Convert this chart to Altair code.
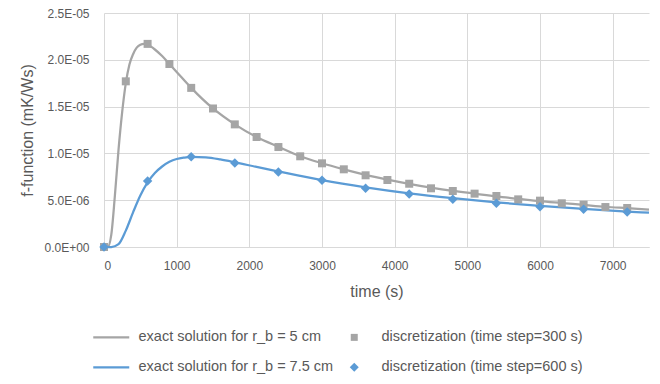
import altair as alt
import pandas as pd

S1 = "exact solution for r_b = 5 cm"
S2 = "discretization (time step=300 s)"
S3 = "exact solution for r_b = 7.5 cm"
S4 = "discretization (time step=600 s)"

# exact solution r_b = 5 cm (gray line)
t_exact5 = [0, 50, 100, 150, 200, 250, 300, 350, 400, 450, 500, 550, 600, 700, 800, 900,
            1000, 1200, 1500, 1800, 2100, 2400, 2700, 3000, 3300, 3600, 3900, 4200, 4500,
            4800, 5100, 5400, 5700, 6000, 6300, 6600, 6900, 7200, 7500]
f_exact5 = [0.0, 0.0, 0.13e-5, 0.55e-5, 1.04e-5, 1.44e-5, 1.75e-5, 1.95e-5, 2.06e-5, 2.13e-5,
            2.16e-5, 2.17e-5, 2.16e-5, 2.11e-5, 2.04e-5, 1.955e-5, 1.87e-5, 1.70e-5, 1.48e-5,
            1.31e-5, 1.175e-5, 1.07e-5, 0.97e-5, 0.895e-5, 0.83e-5, 0.77e-5, 0.72e-5, 0.675e-5,
            0.635e-5, 0.60e-5, 0.57e-5, 0.54e-5, 0.515e-5, 0.49e-5, 0.47e-5, 0.45e-5, 0.43e-5,
            0.415e-5, 0.40e-5]

# exact solution r_b = 7.5 cm (blue line)
t_exact75 = [0, 100, 200, 300, 400, 500, 600, 700, 800, 900, 1000, 1100, 1200, 1400, 1600,
             1800, 2100, 2400, 2700, 3000, 3600, 4200, 4800, 5400, 6000, 6600, 7200, 7500]
f_exact75 = [0.0, 0.0, 0.03e-5, 0.175e-5, 0.37e-5, 0.55e-5, 0.69e-5, 0.79e-5, 0.86e-5,
             0.91e-5, 0.94e-5, 0.955e-5, 0.963e-5, 0.957e-5, 0.935e-5, 0.905e-5, 0.855e-5,
             0.807e-5, 0.76e-5, 0.715e-5, 0.638e-5, 0.574e-5, 0.522e-5, 0.477e-5, 0.439e-5,
             0.407e-5, 0.379e-5, 0.366e-5]

# discretization, time step 300 s (gray squares)
t_disc300 = [0, 300, 600, 900, 1200, 1500, 1800, 2100, 2400, 2700, 3000, 3300, 3600, 3900,
             4200, 4500, 4800, 5100, 5400, 5700, 6000, 6300, 6600, 6900, 7200]
f_disc300 = [0.0, 1.77e-5, 2.17e-5, 1.955e-5, 1.70e-5, 1.48e-5, 1.31e-5, 1.175e-5, 1.068e-5,
             0.969e-5, 0.894e-5, 0.83e-5, 0.766e-5, 0.716e-5, 0.676e-5, 0.627e-5, 0.598e-5,
             0.57e-5, 0.545e-5, 0.509e-5, 0.495e-5, 0.467e-5, 0.452e-5, 0.427e-5, 0.417e-5]

# discretization, time step 600 s (blue diamonds)
t_disc600 = [0, 600, 1200, 1800, 2400, 3000, 3600, 4200, 4800, 5400, 6000, 6600, 7200]
f_disc600 = [0.0, 0.705e-5, 0.965e-5, 0.897e-5, 0.801e-5, 0.712e-5, 0.627e-5, 0.566e-5,
             0.509e-5, 0.467e-5, 0.431e-5, 0.403e-5, 0.374e-5]

# legend is filled column by column
series_order = [S1, S3, S2, S4]
series_colors = ["#a5a5a5", "#5b9bd5", "#a5a5a5", "#5b9bd5"]

lines = pd.concat([
    pd.DataFrame({"t": t_exact5, "f": f_exact5, "series": S1}),
    pd.DataFrame({"t": t_exact75, "f": f_exact75, "series": S3}),
])
pts300 = pd.DataFrame({"t": t_disc300, "f": f_disc300, "series": S2})
pts600 = pd.DataFrame({"t": t_disc600, "f": f_disc600, "series": S4})

FONT = "Liberation Sans"
TXT = "#595959"
GRID = "#d9d9d9"

color_scale = alt.Scale(domain=series_order, range=series_colors)

is_s2 = f"datum.value == '{S2}'"
is_s4 = f"datum.value == '{S4}'"

legend = alt.Legend(
    title=None,
    orient="none",
    legendX=-8,
    legendY=317,
    columns=2,
    columnPadding=5,
    rowPadding=15,
    labelFont=FONT,
    labelFontSize=14.5,
    labelColor=TXT,
    labelOffset=20,
    symbolOffset=8,
    padding=0,
    labelLimit=400,
    symbolType=alt.ExprRef(expr=f"{is_s2} ? 'square' : ({is_s4} ? 'diamond' : 'stroke')"),
    symbolSize=alt.ExprRef(expr=f"{is_s2} ? 49 : ({is_s4} ? 81 : 1296)"),
    symbolStrokeWidth=alt.ExprRef(expr=f"({is_s2} || {is_s4}) ? 0 : 2.25"),
    symbolStrokeColor=alt.ExprRef(expr="scale('color', datum.value)"),
    symbolFillColor=alt.ExprRef(expr="scale('color', datum.value)"),
    symbolOpacity=1,
)

x_enc = alt.X(
    "t:Q",
    scale=alt.Scale(domain=[0, 7500], nice=False, zero=True),
    axis=alt.Axis(
        title="time (s)",
        values=[0, 1000, 2000, 3000, 4000, 5000, 6000, 7000],
        format="d",
        grid=True,
        gridColor=GRID,
        domainColor=GRID,
        ticks=False,
        tickSize=0,
        labelPadding=13,
        labelFont=FONT,
        labelFontSize=12,
        labelColor=TXT,
        titleFont=FONT,
        titleFontSize=16,
        titleFontWeight="normal",
        titleColor=TXT,
        titlePadding=12,
    ),
)
y_enc = alt.Y(
    "f:Q",
    scale=alt.Scale(domain=[0, 2.5e-5], nice=False),
    axis=alt.Axis(
        title="f-function (mK/Ws)",
        values=[0, 5e-6, 1e-5, 1.5e-5, 2e-5, 2.5e-5],
        labelExpr="replace(replace(upper(format(datum.value, '.1e')), 'E-', 'E-0'), 'E+', 'E+0')",
        grid=True,
        gridColor=GRID,
        domain=False,
        ticks=False,
        tickSize=0,
        labelPadding=15,
        labelFont=FONT,
        labelFontSize=12,
        labelColor=TXT,
        titleFont=FONT,
        titleFontSize=16,
        titleFontWeight="normal",
        titleColor=TXT,
        titlePadding=8,
    ),
)

color_enc = alt.Color("series:N", scale=color_scale, legend=legend)

line_layer = alt.Chart(lines).mark_line(interpolate="monotone", strokeWidth=2.25).encode(
    x=x_enc,
    y=y_enc,
    color=color_enc,
    detail="series:N",
)

square_layer = alt.Chart(pts300).mark_point(
    filled=True, opacity=1, strokeWidth=0, shape="square", size=64
).encode(x=x_enc, y=y_enc, color=color_enc)

diamond_layer = alt.Chart(pts600).mark_point(
    filled=True, opacity=1, strokeWidth=0, shape="diamond", size=90
).encode(x=x_enc, y=y_enc, color=color_enc)

chart = alt.layer(line_layer, square_layer, diamond_layer).properties(
    width=545,
    height=234,
    autosize=alt.AutoSizeParams(type="none"),
    padding={"left": 96, "top": 5, "right": 3, "bottom": 129},
).configure_view(stroke=None)

chart.save("out.html", embed_options={"renderer": "svg", "actions": False})
